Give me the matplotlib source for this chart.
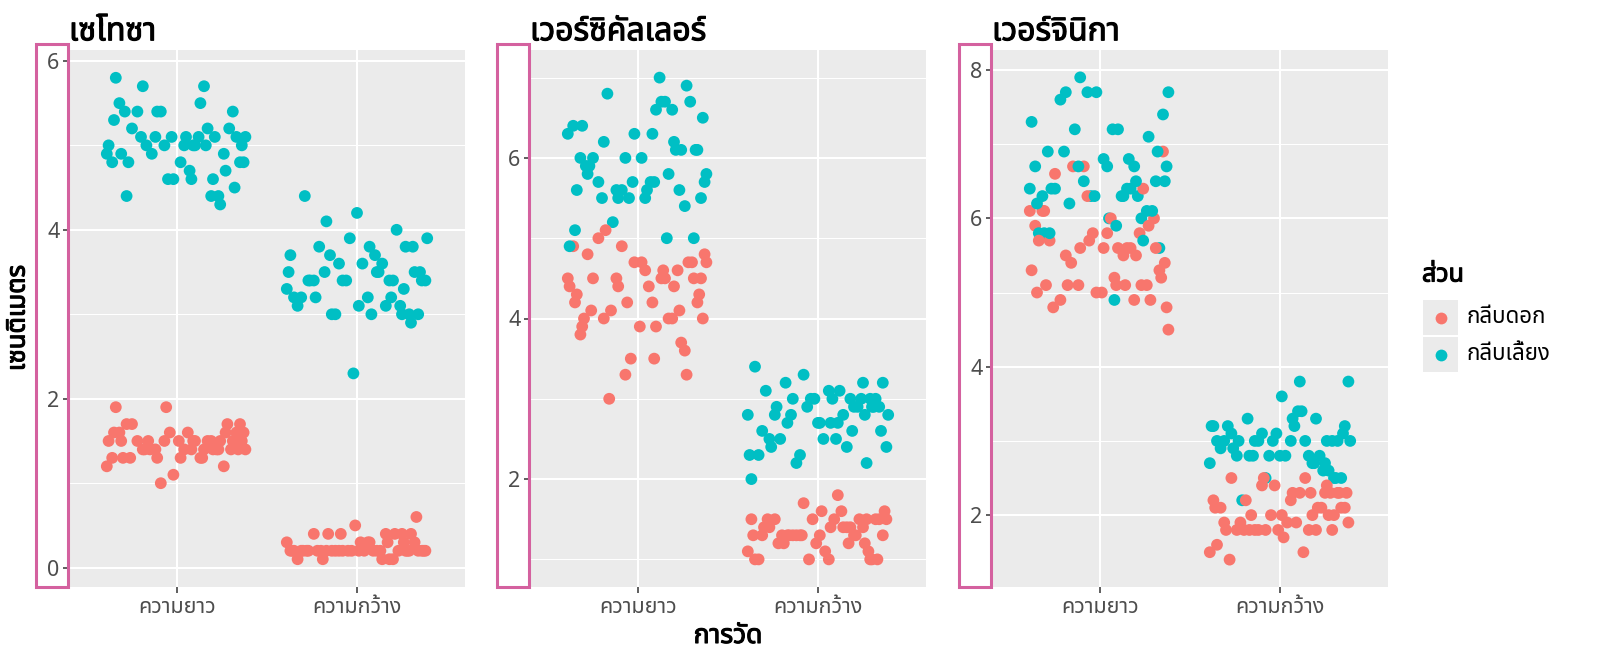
import numpy as np
import matplotlib
matplotlib.use('Agg')
import matplotlib.pyplot as plt
import matplotlib.patheffects as pe
from matplotlib import font_manager
from matplotlib.ft2font import FT2Font
from matplotlib.patches import Rectangle
from matplotlib.ticker import MultipleLocator

# ---- data (iris, per species) ----
setosa_sl = [5.1,4.9,4.7,4.6,5.0,5.4,4.6,5.0,4.4,4.9,5.4,4.8,4.8,4.3,5.8,5.7,5.4,5.1,5.7,5.1,
             5.4,5.1,4.6,5.1,4.8,5.0,5.0,5.2,5.2,4.7,4.8,5.4,5.2,5.5,4.9,5.0,5.5,4.9,4.4,5.1,
             5.0,4.5,4.4,5.0,5.1,4.8,5.1,4.6,5.3,5.0]
setosa_sw = [3.5,3.0,3.2,3.1,3.6,3.9,3.4,3.4,2.9,3.1,3.7,3.4,3.0,3.0,4.0,4.4,3.9,3.5,3.8,3.8,
             3.4,3.7,3.6,3.3,3.4,3.0,3.4,3.5,3.4,3.2,3.1,3.4,4.1,4.2,3.1,3.2,3.5,3.6,3.0,3.4,
             3.5,2.3,3.2,3.5,3.8,3.0,3.8,3.2,3.7,3.3]
setosa_pl = [1.4,1.4,1.3,1.5,1.4,1.7,1.4,1.5,1.4,1.5,1.5,1.6,1.4,1.1,1.2,1.5,1.3,1.4,1.7,1.5,
             1.7,1.5,1.0,1.7,1.9,1.6,1.6,1.5,1.4,1.6,1.6,1.5,1.5,1.4,1.5,1.2,1.3,1.4,1.3,1.5,
             1.3,1.3,1.3,1.6,1.9,1.4,1.6,1.4,1.5,1.4]
setosa_pw = [0.2,0.2,0.2,0.2,0.2,0.4,0.3,0.2,0.2,0.1,0.2,0.2,0.1,0.1,0.2,0.4,0.4,0.3,0.3,0.3,
             0.2,0.4,0.2,0.5,0.2,0.2,0.4,0.2,0.2,0.2,0.2,0.4,0.1,0.2,0.2,0.2,0.2,0.1,0.2,0.2,
             0.3,0.3,0.2,0.6,0.4,0.3,0.2,0.2,0.2,0.2]

versicolor_sl = [7.0,6.4,6.9,5.5,6.5,5.7,6.3,4.9,6.6,5.2,5.0,5.9,6.0,6.1,5.6,6.7,5.6,5.8,6.2,5.6,
                 5.9,6.1,6.3,6.1,6.4,6.6,6.8,6.7,6.0,5.7,5.5,5.5,5.8,6.0,5.4,6.0,6.7,6.3,5.6,5.5,
                 5.5,6.1,5.8,5.0,5.6,5.7,5.7,6.2,5.1,5.7]
versicolor_sw = [3.2,3.2,3.1,2.3,2.8,2.8,3.3,2.4,2.9,2.7,2.0,3.0,2.2,2.9,2.9,3.1,3.0,2.7,2.2,2.5,
                 3.2,2.8,2.5,2.8,2.9,3.0,2.8,3.0,2.9,2.6,2.4,2.4,2.7,2.7,3.0,3.4,3.1,2.3,3.0,2.5,
                 2.6,3.0,2.6,2.3,2.7,3.0,2.9,2.9,2.5,2.8]
versicolor_pl = [4.7,4.5,4.9,4.0,4.6,4.5,4.7,3.3,4.6,3.9,3.5,4.2,4.0,4.7,3.6,4.4,4.5,4.1,4.5,3.9,
                 4.8,4.0,4.9,4.7,4.3,4.4,4.8,5.0,4.5,3.5,3.8,3.7,3.9,5.1,4.5,4.5,4.7,4.4,4.1,4.0,
                 4.4,4.6,4.0,3.3,4.2,4.2,4.2,4.3,3.0,4.1]
versicolor_pw = [1.4,1.5,1.5,1.3,1.5,1.3,1.6,1.0,1.3,1.4,1.0,1.5,1.0,1.4,1.3,1.4,1.5,1.0,1.5,1.1,
                 1.8,1.3,1.5,1.2,1.3,1.4,1.4,1.7,1.5,1.0,1.1,1.0,1.2,1.6,1.5,1.6,1.5,1.3,1.3,1.3,
                 1.2,1.4,1.2,1.0,1.3,1.2,1.3,1.3,1.1,1.3]

virginica_sl = [6.3,5.8,7.1,6.3,6.5,7.6,4.9,7.3,6.7,7.2,6.5,6.4,6.8,5.7,5.8,6.4,6.5,7.7,7.7,6.0,
                6.9,5.6,7.7,6.3,6.7,7.2,6.2,6.1,6.4,7.2,7.4,7.9,6.4,6.3,6.1,7.7,6.3,6.4,6.0,6.9,
                6.7,6.9,5.8,6.8,6.7,6.7,6.3,6.5,6.2,5.9]
virginica_sw = [3.3,2.7,3.0,2.9,3.0,3.0,2.5,2.9,2.5,3.6,3.2,2.7,3.0,2.5,2.8,3.2,3.0,3.8,2.6,2.2,
                3.2,2.8,2.8,2.7,3.3,3.2,2.8,3.0,2.8,3.0,2.8,3.8,2.8,2.8,2.6,3.0,3.4,3.1,3.0,3.1,
                3.1,3.1,2.7,3.2,3.3,3.0,2.5,3.0,3.4,3.0]
virginica_pl = [6.0,5.1,5.9,5.6,5.8,6.6,4.5,6.3,5.8,6.1,5.1,5.3,5.5,5.0,5.1,5.3,5.5,6.7,6.9,5.0,
                5.7,4.9,6.7,4.9,5.7,6.0,4.8,4.9,5.6,5.8,6.1,6.4,5.6,5.1,5.6,6.1,5.6,5.5,4.8,5.4,
                5.6,5.1,5.1,5.9,5.7,5.2,5.0,5.2,5.4,5.1]
virginica_pw = [2.5,1.9,2.1,1.8,2.2,2.1,1.7,1.8,1.8,2.5,2.0,1.9,2.1,2.0,2.4,2.3,1.8,2.2,2.3,1.5,
                2.3,2.0,2.0,1.8,2.1,1.8,1.8,1.8,2.1,1.6,1.9,2.0,2.2,1.5,1.4,2.3,2.4,1.8,1.8,2.1,
                2.4,2.3,1.9,2.3,2.5,2.3,1.9,2.0,2.3,1.8]

# horizontal jitter offsets (hand-read spread around each category)
jit_sl = [0.12,-0.31,0.27,-0.05,0.36,-0.22,0.08,-0.38,0.19,-0.14,0.31,-0.27,0.02,0.24,-0.34,0.15,-0.09,0.38,-0.19,0.05,
          -0.29,0.33,-0.02,0.21,-0.36,0.10,-0.17,0.29,-0.25,0.07,0.35,-0.11,0.17,-0.32,0.26,-0.07,0.13,-0.39,0.23,-0.20,
          0.04,0.32,-0.28,0.16,-0.12,0.37,-0.03,0.20,-0.35,0.09]
jit_sw = [-0.18,0.25,0.06,-0.33,0.14,0.39,-0.08,-0.26,0.30,0.01,-0.37,0.18,-0.12,0.34,0.22,-0.29,-0.04,0.11,0.27,-0.21,
          0.36,-0.15,0.03,-0.39,0.20,0.08,-0.24,0.32,-0.06,-0.31,0.16,0.38,-0.17,0.00,0.24,-0.35,0.12,-0.10,0.29,-0.27,
          0.35,-0.02,0.19,-0.38,0.07,-0.14,0.31,-0.23,0.10,0.26]
jit_pl = [0.30,-0.12,-0.36,0.17,0.04,-0.25,0.38,-0.07,0.22,-0.31,0.09,0.33,-0.19,-0.02,0.26,-0.38,0.13,-0.15,0.35,0.01,
          -0.28,0.19,-0.09,0.28,-0.34,0.06,0.37,-0.22,0.15,-0.04,-0.32,0.24,0.10,-0.18,0.31,-0.39,0.02,0.20,-0.26,0.36,
          -0.11,0.14,-0.30,0.27,-0.06,0.08,-0.35,0.34,-0.16,0.23]
jit_pw = [-0.27,0.09,0.34,-0.14,-0.37,0.21,0.02,0.29,-0.20,0.14,-0.05,0.38,-0.33,0.18,-0.10,0.25,-0.24,0.06,0.32,-0.39,
          0.11,-0.16,0.27,-0.01,0.36,-0.30,0.16,-0.08,0.23,-0.35,0.04,0.30,-0.19,0.13,-0.28,0.37,-0.03,0.20,-0.12,-0.36,
          0.26,0.07,-0.22,0.33,-0.09,0.17,-0.31,0.01,0.28,-0.17]

titles = ['เซโทซา', 'เวอร์ซิคัลเลอร์', 'เวอร์จินิกา']
x_labels = ['ความยาว', 'ความกว้าง']
parts = ['กลีบดอก', 'กลีบเลี้ยง']
colors = {'กลีบดอก': '#F8766D', 'กลีบเลี้ยง': '#00BFC4'}


# ---- font with Thai glyphs ----
def find_thai_font():
    names = [f.name for f in font_manager.fontManager.ttflist]
    for want in ['Noto Sans Thai', 'Noto Sans Thai UI', 'Sarabun', 'Loma', 'Garuda', 'Noto Sans Thai Looped']:
        if want in names:
            return want
    for f in font_manager.fontManager.ttflist:
        try:
            if 0x0E01 in FT2Font(f.fname).get_charmap():
                return f.name
        except Exception:
            pass
    return None


thai = find_thai_font()
plt.rcParams['font.family'] = [thai, 'DejaVu Sans'] if thai else ['DejaVu Sans']


def weight_num(w):
    if isinstance(w, int):
        return w
    return 700 if 'bold' in str(w).lower() else 400


has_bold = any(f.name == thai and weight_num(f.weight) >= 600
               for f in font_manager.fontManager.ttflist)
if has_bold:
    bold = dict(fontweight='bold')
else:
    # no bold face installed: thicken the strokes instead
    bold = dict(path_effects=[pe.withStroke(linewidth=0.8, foreground='black')])

W, H = 1600, 671
fig = plt.figure(figsize=(W / 100, H / 100), dpi=100)


def px_rect(x0, y0, w, h):
    return [x0 / W, 1 - (y0 + h) / H, w / W, h / H]


panel_left = [69, 530, 992]
panel_top, panel_w, panel_h = 50, 396, 537

species = [
    (setosa_sl, setosa_sw, setosa_pl, setosa_pw),
    (versicolor_sl, versicolor_sw, versicolor_pl, versicolor_pw),
    (virginica_sl, virginica_sw, virginica_pl, virginica_pw),
]

for i, (sl, sw, pl, pw) in enumerate(species):
    ax = fig.add_axes(px_rect(panel_left[i], panel_top, panel_w, panel_h))
    ax.set_facecolor('#EBEBEB')
    for s in ax.spines.values():
        s.set_visible(False)

    # long format, same row order as pivoting each flower
    xs = np.column_stack([1 + np.array(jit_sl), 2 + np.array(jit_sw),
                          1 + np.array(jit_pl), 2 + np.array(jit_pw)]).ravel()
    ys = np.column_stack([sl, sw, pl, pw]).ravel()
    cs = np.array([colors['กลีบเลี้ยง'], colors['กลีบเลี้ยง'],
                   colors['กลีบดอก'], colors['กลีบดอก']] * len(sl))
    ax.scatter(xs, ys, s=72, c=cs, linewidths=0, zorder=3)

    lo, hi = ys.min() - 0.04, ys.max() + 0.04
    pad = (hi - lo) * 0.05
    ax.set_ylim(lo - pad, hi + pad)
    ax.set_xlim(0.4, 2.6)
    ax.set_xticks([1, 2])
    ax.set_xticklabels(x_labels)
    ax.yaxis.set_major_locator(MultipleLocator(2))
    ax.yaxis.set_minor_locator(MultipleLocator(1))
    ax.set_axisbelow(True)
    ax.grid(which='major', color='white', lw=1.5)
    ax.grid(which='minor', axis='y', color='white', lw=0.75)
    ax.tick_params(which='major', length=4, width=1.1, color='#333333',
                   labelsize=15.5, labelcolor='#4D4D4D', pad=3)
    ax.tick_params(which='minor', length=0)
    ax.set_title(titles[i], loc='left', fontsize=23, pad=7, **bold)

    # highlight box around the y tick labels
    x0 = panel_left[i] - 33
    fig.add_artist(Rectangle((x0 / W, 1 - 587 / H), 32 / W, (587 - 44) / H,
                             transform=fig.transFigure, fill=False,
                             ec='#D4619F', lw=2.2, zorder=10))

fig.text(18 / W, 1 - 318 / H, 'เซนติเมตร', rotation=90, ha='center', va='center',
         fontsize=18.5, **bold)
fig.text(728 / W, 1 - 636 / H, 'การวัด', ha='center', va='center',
         fontsize=19, **bold)

# legend
lax = fig.add_axes(px_rect(1420, 255, 175, 125))
lax.set_xlim(0, 175)
lax.set_ylim(125, 0)
lax.axis('off')
lax.text(2, 20, 'ส่วน', fontsize=18, va='center', ha='left', **bold)
for k, part in enumerate(parts):
    y0 = 45 + k * 37
    lax.add_patch(Rectangle((3, y0), 35, 35, fc='#EBEBEB', ec='none'))
    lax.plot(20.5, y0 + 17.5, 'o', ms=8.5, color=colors[part], mec='none')
    lax.text(46, y0 + 17.5, part, fontsize=16, va='center', ha='left')

fig.savefig('out.png', dpi=100)
